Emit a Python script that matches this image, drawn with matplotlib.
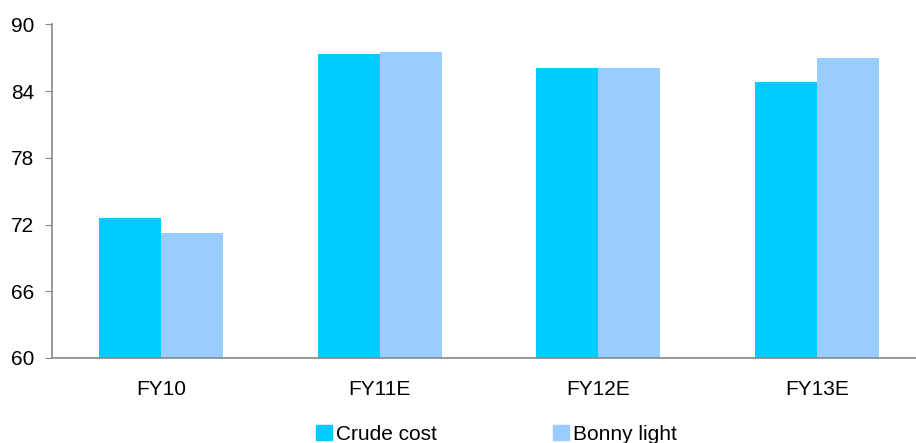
import numpy as np
import matplotlib.pyplot as plt
from matplotlib.patches import Patch

plt.rcParams['font.family'] = ['Liberation Sans', 'DejaVu Sans']

years = ["FY10", "FY11E", "FY12E", "FY13E"]
crude_cost = [72.6, 87.35, 86.1, 84.8]
bonny_light = [71.25, 87.5, 86.1, 87.0]

fig = plt.figure(figsize=(9.16, 4.43), dpi=100)
ax = fig.add_axes([0.057, 0.192, 0.954, 0.753])

x = np.arange(len(years))
w = 0.284
ax.bar(x - w / 2, crude_cost, w, color="#00CCFF")
ax.bar(x + w / 2, bonny_light, w, color="#99CCFF")

ax.set_ylim(60, 90)
ax.set_yticks([60, 66, 72, 78, 84, 90])
ax.set_xlim(-0.5, 3.5)
ax.set_xticks(x)
ax.set_xticklabels(years)

for s in ["top", "right"]:
    ax.spines[s].set_visible(False)
for s in ["left", "bottom"]:
    ax.spines[s].set_color("#888888")
    ax.spines[s].set_linewidth(1.2)

ax.tick_params(axis="y", length=5, color="#888888", labelsize=15, pad=8)
ax.tick_params(axis="x", length=0, labelsize=15, pad=16)

handles = [Patch(color="#00CCFF"), Patch(color="#99CCFF")]
fig.legend(handles, ["Crude cost", "Bonny light"], loc="center",
           bbox_to_anchor=(0.542, 0.02), ncol=2, frameon=False,
           fontsize=15, handlelength=0.75, handleheight=0.75,
           handletextpad=0.2, columnspacing=5.6)

fig.savefig("out.png", dpi=100)
